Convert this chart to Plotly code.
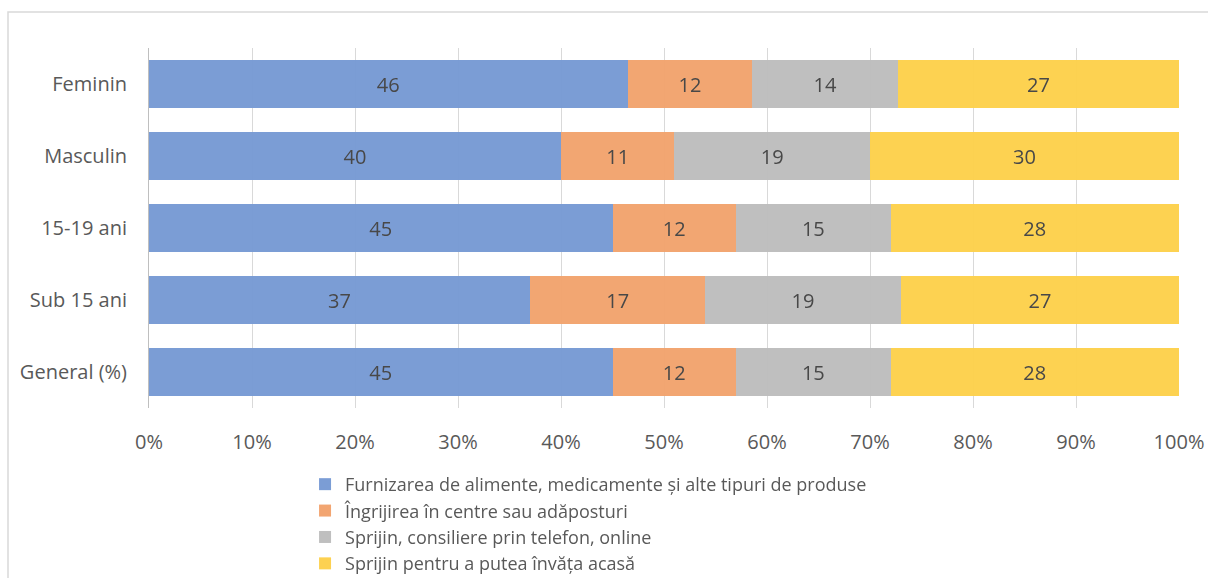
import plotly.graph_objects as go

# Categories listed bottom-to-top (Plotly draws the first category at the bottom)
categories = ["General (%)", "Sub 15 ani", "15-19 ani", "Masculin", "Feminin"]

series_names = [
    "Furnizarea de alimente, medicamente și alte tipuri de produse",
    "Îngrijirea în centre sau adăposturi",
    "Sprijin, consiliere prin telefon, online",
    "Sprijin pentru a putea învăța acasă",
]

alimente = [45, 37, 45, 40, 46]
ingrijire = [12, 17, 12, 11, 12]
consiliere = [15, 19, 15, 19, 14]
invatare = [28, 27, 28, 30, 27]

colors = ["#7699D4", "#F2A26C", "#BDBDBD", "#FDD04A"]
tick_vals = [0, 10, 20, 30, 40, 50, 60, 70, 80, 90, 100]
tick_text = ["0%", "10%", "20%", "30%", "40%", "50%", "60%", "70%", "80%", "90%", "100%"]

FONT = "Open Sans"
TEXT_GRAY = "#595959"

fig = go.Figure()
for name, vals, col in zip(series_names, [alimente, ingrijire, consiliere, invatare], colors):
    fig.add_trace(go.Bar(
        y=categories,
        x=vals,
        name=name,
        orientation="h",
        marker=dict(color=col, line=dict(width=0)),
        opacity=0.96,
        text=[str(v) for v in vals],
        textposition="inside",
        insidetextanchor="middle",
        textangle=0,
        textfont=dict(family=FONT, size=20, color="#404040"),
        hoverinfo="skip",
    ))

fig.update_layout(
    barmode="stack",
    barnorm="percent",
    bargap=0.333,
    width=1208,
    height=578,
    margin=dict(l=149, r=29, t=48, b=170, autoexpand=False),
    paper_bgcolor="white",
    plot_bgcolor="white",
    font=dict(family=FONT, color=TEXT_GRAY),
    uniformtext=dict(minsize=10, mode="show"),
    xaxis=dict(
        range=[0, 100],
        tickmode="array",
        tickvals=tick_vals,
        ticktext=tick_text,
        showgrid=True,
        gridcolor="#D9D9D9",
        gridwidth=1,
        zeroline=False,
        showline=False,
        ticks="",
        tickfont=dict(family=FONT, size=20, color=TEXT_GRAY),
        ticklabelstandoff=20,
        automargin=False,
        fixedrange=True,
    ),
    yaxis=dict(
        showgrid=False,
        showline=True,
        linecolor="#BFBFBF",
        linewidth=1,
        ticks="",
        ticklabelstandoff=17,
        tickfont=dict(family=FONT, size=20, color=TEXT_GRAY),
        automargin=False,
        fixedrange=True,
    ),
    legend=dict(
        orientation="v",
        x=0.1515,
        xanchor="left",
        y=-0.161,
        yanchor="top",
        font=dict(family=FONT, size=18, color=TEXT_GRAY),
        tracegroupgap=0,
        itemwidth=30,
        traceorder="normal",
        bgcolor="rgba(0,0,0,0)",
    ),
    shapes=[
        dict(
            type="rect",
            xref="paper", yref="paper",
            x0=-0.1369, x1=1.2,
            y0=-1.0, y1=1.1,
            line=dict(color="#D9D9D9", width=1.5),
            fillcolor="rgba(0,0,0,0)",
            layer="below",
        )
    ],
)

fig.write_html("out.html")
